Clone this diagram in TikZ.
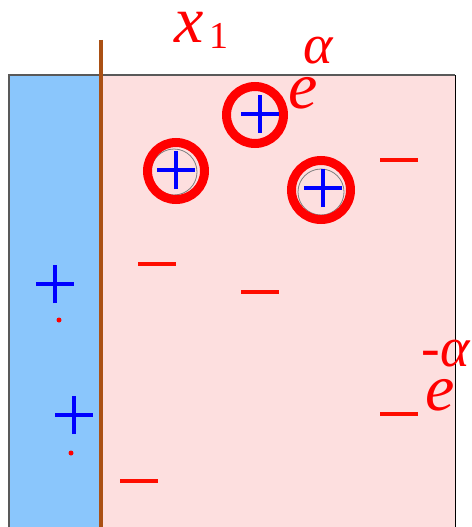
\documentclass[tikz,border=0pt]{standalone}
\usepackage{fontspec}
\newfontfamily\handfont{Liberation Serif}
\begin{document}
\begin{tikzpicture}[x=1pt,y=-1pt,
  plussign/.style={draw=none,inner sep=0pt,minimum size=38pt,path picture={
    \draw[blue,line width=3.2pt] ([xshift=-19pt]path picture bounding box.center) -- ++(38pt,0);
    \draw[blue,line width=3.2pt] ([yshift=-19pt]path picture bounding box.center) -- ++(0,38pt);}},
  minussign/.style={draw=none,fill=red!90!orange,inner sep=0pt,minimum width=38pt,minimum height=3.6pt},
  ring/.style={circle,draw=red,line width=9pt,inner sep=0pt},
  graycirc/.style={circle,draw=gray,line width=0.8pt,inner sep=0pt,minimum size=46pt},
  reddot/.style={circle,fill=red,inner sep=0pt,minimum size=5pt},
  handbig/.style={text=red,inner sep=0pt,font=\handfont\itshape\fontsize{66}{68}\selectfont},
  handsmall/.style={text=red,inner sep=0pt,font=\handfont\itshape\fontsize{56}{58}\selectfont},
  handsub/.style={text=red,inner sep=0pt,font=\handfont\fontsize{38}{40}\selectfont}]
\definecolor{pinkbg}{RGB}{253,223,223}
\definecolor{bluebg}{RGB}{138,198,252}
\definecolor{brown}{RGB}{170,80,20}
\useasboundingbox (0,0) rectangle (471,527);
\fill[pinkbg] (101,75) rectangle (455,527);
\fill[bluebg] (9,75) rectangle (101,527);
\draw[gray!70!black,line width=1.5pt] (9,527) -- (9,75) -- (455,75);
\draw[black,line width=0.8pt] (455,75) -- (455,527);
\draw[brown,line width=4pt] (101,40) -- (101,527);
% circles
\node[graycirc] (g1) at (174,172) {};
\node[graycirc] (g3) at (321,192) {};
\node[ring,minimum size=57pt] (c1) at (176,171) {};
\node[ring,minimum size=57pt] (c2) at (255,115) {};
\node[ring,minimum size=59pt] (c3) at (321,190) {};
% plus signs
\node[plussign] (p1) at (55,284) {};
\node[plussign] (p2) at (74,415) {};
\node[plussign] (p3) at (176,170) {};
\node[plussign] (p4) at (260,114) {};
\node[plussign] (p5) at (323,188) {};
\node[reddot] (d1) at (59,320) {};
\node[reddot] (d2) at (71,453) {};
% minus signs
\node[minussign] (m1) at (399,160) {};
\node[minussign] (m2) at (157,264) {};
\node[minussign] (m3) at (260,292) {};
\node[minussign] (m4) at (399,414) {};
\node[minussign] (m5) at (139,481) {};
% labels
\node[handbig] (xl) at (189,27) {x};
\node[handsub] (xs) at (219,36) {1};
\node[handbig] (e1) at (303,93) {e};
\node[handsmall] (a1) at (318,51) {α};
\node[handbig] (e2) at (440,395) {e};
\node[handsmall] (a2) at (446,354) {-α};
\end{tikzpicture}
\end{document}
